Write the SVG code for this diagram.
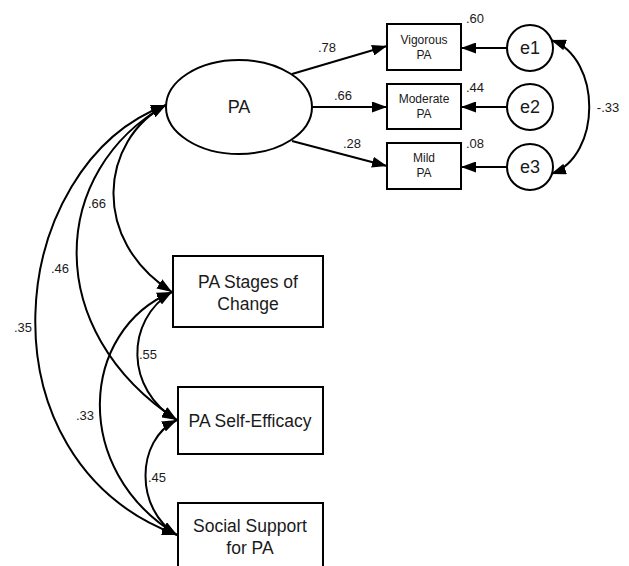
<svg xmlns="http://www.w3.org/2000/svg" width="629" height="566" viewBox="0 0 629 566">
<defs>
<marker id="ah" markerUnits="userSpaceOnUse" markerWidth="15" markerHeight="11" refX="15" refY="5.5" orient="auto-start-reverse"><path d="M0,0 L15,5.5 L0,11 z" fill="#000"/></marker>
<style>
.n{fill:#fff;stroke:#000;stroke-width:2}
.c{fill:none;stroke:#000;stroke-width:2}
text{font-family:"Liberation Sans",Arial,sans-serif;fill:#1a1a1a;text-anchor:middle}
.s{font-size:12px}
.l{font-size:13px}
.b{font-size:17.5px}
.e{font-size:18px}
</style>
</defs>
<rect width="629" height="566" fill="#fff"/>
<g id="connectors">
<line class="c" x1="292" y1="74" x2="387" y2="46" marker-end="url(#ah)"/>
<line class="c" x1="312" y1="107" x2="387" y2="107" marker-end="url(#ah)"/>
<line class="c" x1="292" y1="141" x2="387" y2="166" marker-end="url(#ah)"/>
<line class="c" x1="507" y1="48" x2="461" y2="48" marker-end="url(#ah)"/>
<line class="c" x1="507" y1="107" x2="461" y2="107" marker-end="url(#ah)"/>
<line class="c" x1="507" y1="167" x2="461" y2="167" marker-end="url(#ah)"/>
<path class="c" d="M551,40 C602,58 602,156 551,174" marker-start="url(#ah)" marker-end="url(#ah)"/>
<path class="c" d="M166,105 C100,140 90,240 172,292" marker-start="url(#ah)" marker-end="url(#ah)"/>
<path class="c" d="M166,105 C50,170 40,330 177,420" marker-start="url(#ah)" marker-end="url(#ah)"/>
<path class="c" d="M166,105 C5,165 -25,460 177,535" marker-start="url(#ah)" marker-end="url(#ah)"/>
<path class="c" d="M172,292 C125,320 125,390 177,420" marker-start="url(#ah)" marker-end="url(#ah)"/>
<path class="c" d="M172,292 C80,330 70,470 177,535" marker-start="url(#ah)" marker-end="url(#ah)"/>
<path class="c" d="M177,420 C135,440 135,510 177,535" marker-start="url(#ah)" marker-end="url(#ah)"/>
<text class="l" x="327" y="52">.78</text>
<text class="l" x="343" y="100">.66</text>
<text class="l" x="352" y="148">.28</text>
<text class="l" x="475" y="23">.60</text>
<text class="l" x="475" y="92">.44</text>
<text class="l" x="475" y="148">.08</text>
<text class="l" x="608" y="112">-.33</text>
<text class="l" x="97" y="208">.66</text>
<text class="l" x="60" y="273">.46</text>
<text class="l" x="23" y="332">.35</text>
<text class="l" x="148" y="359">.55</text>
<text class="l" x="85" y="420">.33</text>
<text class="l" x="157" y="482">.45</text>
</g>
<g id="PA"><ellipse class="n" cx="239" cy="107" rx="73" ry="47"/><text class="e" x="239" y="113">PA</text></g>
<g id="vigorous"><rect class="n" x="387" y="24" width="74" height="46"/><text class="s" x="424" y="44">Vigorous</text><text class="s" x="424" y="59">PA</text></g>
<g id="moderate"><rect class="n" x="387" y="84" width="74" height="45"/><text class="s" x="424" y="103">Moderate</text><text class="s" x="424" y="118">PA</text></g>
<g id="mild"><rect class="n" x="387" y="143" width="74" height="46"/><text class="s" x="424" y="162">Mild</text><text class="s" x="424" y="177">PA</text></g>
<g id="e1"><circle class="n" cx="530" cy="48" r="23"/><text class="e" x="530" y="54">e1</text></g>
<g id="e2"><circle class="n" cx="530" cy="107" r="23"/><text class="e" x="530" y="113">e2</text></g>
<g id="e3"><circle class="n" cx="530" cy="167" r="23"/><text class="e" x="530" y="173">e3</text></g>
<g id="stages"><rect class="n" x="173" y="256" width="150" height="71"/><text class="b" x="248" y="288">PA Stages of</text><text class="b" x="248" y="310">Change</text></g>
<g id="selfefficacy"><rect class="n" x="178" y="387" width="145" height="67"/><text class="b" x="250" y="427">PA Self-Efficacy</text></g>
<g id="social"><rect class="n" x="178" y="503" width="145" height="80"/><text class="b" x="250" y="532">Social Support</text><text class="b" x="250" y="554">for PA</text></g>
</svg>
